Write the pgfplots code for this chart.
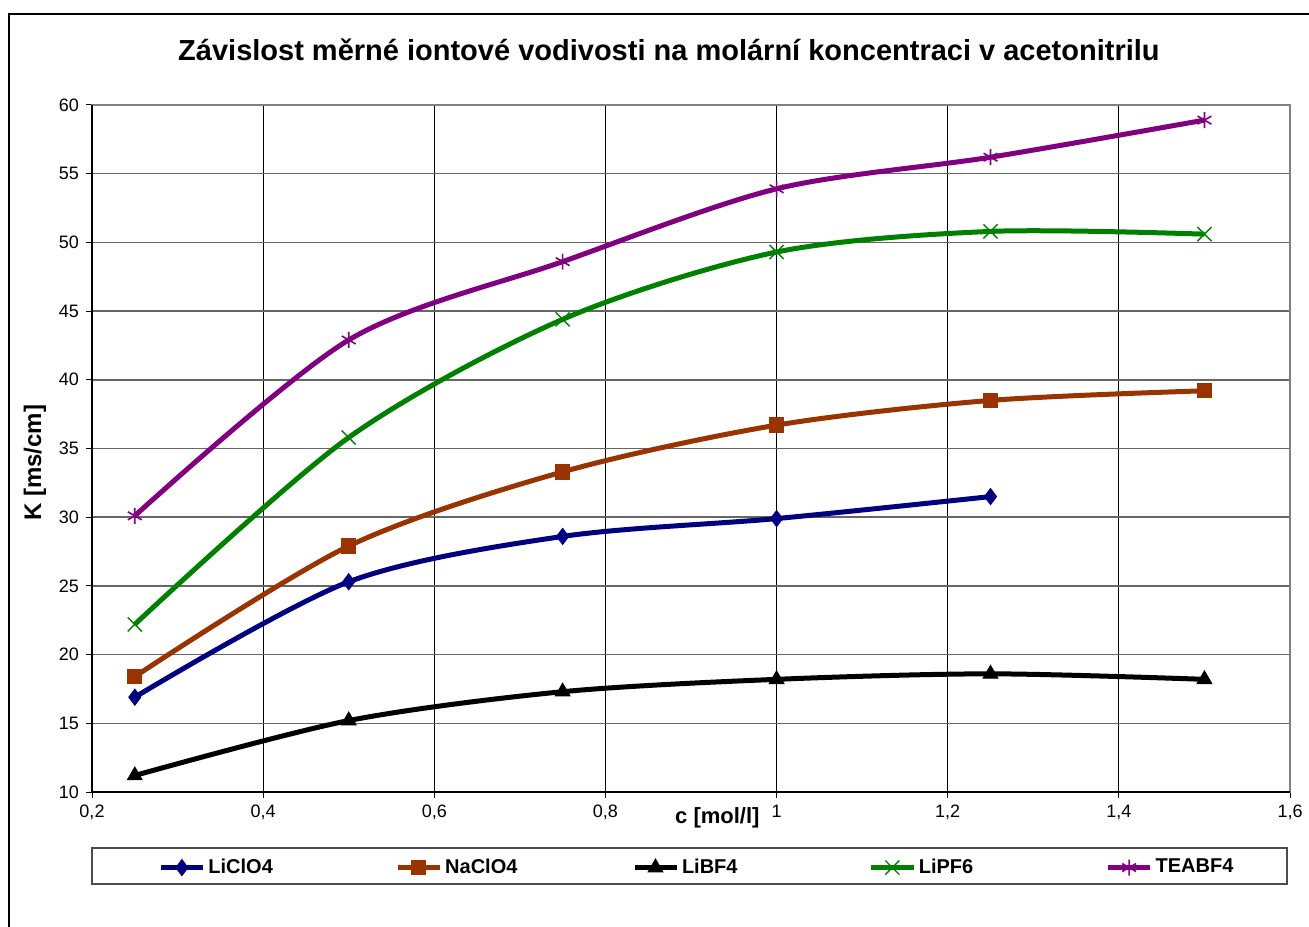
\documentclass[border=0pt]{standalone}
\usepackage{pgfplots}
\pgfplotsset{compat=1.18}
\usepackage{fontspec}
\setmainfont{Liberation Sans}
\definecolor{cnavy}{HTML}{000080}
\definecolor{cbrown}{HTML}{993300}
\definecolor{cgreen}{HTML}{008000}
\definecolor{cpurple}{HTML}{800080}
\pgfplotstableread{
x y
0.25 16.9
0.50 25.3
0.75 28.6
1.00 29.9
1.25 31.5
}\liclo
\pgfplotstableread{
x y
0.25 18.4
0.50 27.9
0.75 33.3
1.00 36.7
1.25 38.5
1.50 39.2
}\naclo
\pgfplotstableread{
x y
0.25 11.2
0.50 15.2
0.75 17.3
1.00 18.2
1.25 18.6
1.50 18.2
}\libf
\pgfplotstableread{
x y
0.25 22.2
0.50 35.8
0.75 44.4
1.00 49.3
1.25 50.8
1.50 50.6
}\lipf
\pgfplotstableread{
x y
0.25 30.1
0.50 42.9
0.75 48.6
1.00 53.9
1.25 56.2
1.50 58.9
}\teabf
\begin{document}
\begin{tikzpicture}
\useasboundingbox (0,0) rectangle (654.5pt,463pt);
\begin{scope}
\clip (0,0) rectangle (654.5pt,463pt);
\draw[line width=1pt] (4.25pt,-20pt) rectangle (700pt,455.75pt);
\end{scope}
\begin{axis}[
  at={(46pt,67pt)}, anchor=south west,
  scale only axis, width=599pt, height=343.5pt,
  xmin=0.2, xmax=1.6, ymin=10, ymax=60,
  xtick={0.2,0.4,0.6,0.8,1,1.2,1.4,1.6},
  ytick={10,15,20,25,30,35,40,45,50,55,60},
  grid=major,
  x grid style={black, line width=0.5pt},
  y grid style={black!60, line width=0.8pt},
  axis line style={black!50, line width=0.8pt},
  tick style={black, line width=0.5pt},
  tick align=outside, major tick length=3pt,
  xtick pos=bottom, ytick pos=left,
  /pgf/number format/.cd, use comma, 1000 sep={}, assume math mode=true,
  /pgfplots/.cd,
  ticklabel style={font=\fontsize{9}{11}\selectfont, black},
  title={Závislost měrné iontové vodivosti na molární koncentraci v acetonitrilu},
  title style={at={(axis description cs:0.4816,1.0626)}, anchor=center, font=\bfseries\fontsize{14.5}{17}\selectfont},
  xlabel={c [mol/l]},
  xlabel style={at={(axis description cs:0.522,-0.037)}, anchor=center, font=\bfseries\fontsize{11}{13}\selectfont},
  ylabel={K [ms/cm]},
  ylabel style={at={(axis description cs:-0.0476,0.479)}, anchor=center, font=\bfseries\fontsize{12}{14}\selectfont},
  legend columns=5,
  legend style={draw=none, fill=none, at={(axis description cs:0.0551,-0.1100)}, anchor=west,
    inner sep=0pt, font=\bfseries\fontsize{10}{12}\selectfont,
    nodes={inner xsep=1.5pt, text width=60pt},
    /tikz/every even column/.append style={column sep=31.9pt}},
  legend image code/.code={\draw[mark repeat=2,mark phase=2] plot coordinates {(0pt,0pt) (10.5pt,0pt) (21pt,0pt)};},
  extra description/.code={
    \draw[black, line width=0.8pt] (axis description cs:0,1) -- (axis description cs:0,0) -- (axis description cs:1,0);
    \draw[black!70, line width=0.8pt] (axis description cs:0,-0.0815) rectangle (axis description cs:0.9975,-0.1339);
  },
]
\addplot[cnavy, line width=2.5pt, smooth, mark=diamond*, mark size=4pt, mark options={solid, line width=0.5pt}] table {\liclo};
\addlegendentry{LiClO4}
\addplot[cbrown, line width=2.5pt, smooth, mark=square*, mark size=3.6pt, mark options={solid, line width=0.5pt}] table {\naclo};
\addlegendentry{NaClO4}
\addplot[black, line width=2.5pt, smooth, mark=triangle*, mark size=4.2pt, mark options={solid, line width=0.5pt}] table {\libf};
\addlegendentry{LiBF4}
\addplot[cgreen, line width=2.5pt, smooth, mark=x, mark size=5pt, mark options={solid, line width=0.7pt}] table {\lipf};
\addlegendentry{LiPF6}
\addplot[cpurple, line width=2.5pt, smooth, mark=asterisk, mark size=4pt, mark options={solid, line width=0.8pt}] table {\teabf};
\addlegendentry{TEABF4}
\end{axis}
\end{tikzpicture}
\end{document}
